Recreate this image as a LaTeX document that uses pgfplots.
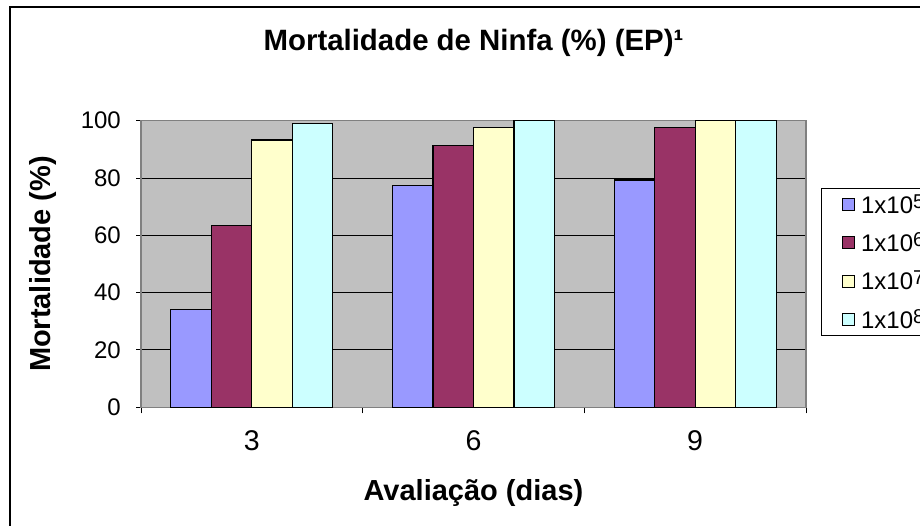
\documentclass[border=0pt]{standalone}
\usepackage{pgfplots}
\pgfplotsset{compat=1.18}
\usepackage{fontspec}
\setmainfont{Liberation Sans}
\definecolor{c1}{HTML}{9999FF}
\definecolor{c2}{HTML}{993366}
\definecolor{c3}{HTML}{FFFFCC}
\definecolor{c4}{HTML}{CCFFFF}
\definecolor{pa}{HTML}{C0C0C0}
\newcommand\sps[1]{\raisebox{5pt}{\fontsize{20}{20}\selectfont #1}}
\begin{document}
\begin{tikzpicture}
\useasboundingbox (0pt,0pt) rectangle (920pt,525pt);
\clip (0pt,0pt) rectangle (920pt,525pt);
\fill[white] (0pt,0pt) rectangle (920pt,525pt);
\draw[black, line width=2pt] (10pt,-10pt) -- (10pt,518pt) -- (940pt,518pt);
\begin{axis}[
  at={(141pt,117.7pt)}, anchor=south west,
  scale only axis, width=665pt, height=286.6pt,
  xmin=-0.5, xmax=2.5, ymin=0, ymax=100,
  ybar, bar width=0.1827,
  axis background/.style={fill=pa},
  xtick={0,1,2}, xticklabels={3,6,9},
  minor xtick={-0.5,0.5,1.5,2.5},
  ytick={0,20,40,60,80,100},
  xtick pos=bottom, ytick pos=left,
  tick align=outside,
  major tick length=5pt, minor tick length=6pt,
  x tick style={draw=none},
  minor x tick style={draw=black, line width=1pt},
  y tick style={black, line width=1pt},
  ymajorgrids, major grid style={black, line width=1pt},
  axis line style={draw=black!50, line width=1.5pt},
  /pgf/number format/assume math mode=true,
  yticklabel style={anchor=east, inner sep=0pt, xshift=-15pt, font=\fontsize{24}{28}\selectfont},
  xticklabel style={anchor=north, inner sep=0pt, yshift=-18pt, font=\fontsize{28.5}{32}\selectfont},
  title={Mortalidade de Ninfa (\%) (EP)¹},
  title style={at={(axis description cs:0.5,1.25)}, anchor=center, font=\bfseries\fontsize{29.4}{34}\selectfont},
  xlabel={Avaliação (dias)},
  xlabel style={at={(axis description cs:0.5,-0.3)}, anchor=center, font=\bfseries\fontsize{29}{34}\selectfont},
  ylabel={Mortalidade (\%)},
  ylabel style={at={(axis description cs:-0.148,0.5)}, anchor=center, rotate=0, font=\bfseries\fontsize{29}{34}\selectfont},
  legend style={at={(axis description cs:1.022,0.766)}, anchor=north west, draw=black, line width=1pt, fill=white,
    font=\fontsize{24}{27}\selectfont, row sep=14pt, inner xsep=21pt, inner ysep=4pt,
    /tikz/every odd column/.append style={column sep=4pt}},
  legend cell align=left,
  legend image code/.code={\draw[#1, line width=1pt] (0pt,-6pt) rectangle (12pt,6pt);},
]
\addplot[fill=c1, draw=black, line width=1.2pt, bar shift=-0.274] coordinates {(0,34.0) (1,77.3) (2,79.3)};
\addplot[fill=c2, draw=black, line width=1.2pt, bar shift=-0.0914] coordinates {(0,63.3) (1,91.4) (2,97.7)};
\addplot[fill=c3, draw=black, line width=1.2pt, bar shift=0.0914] coordinates {(0,93.3) (1,97.7) (2,100)};
\addplot[fill=c4, draw=black, line width=1.2pt, bar shift=0.274] coordinates {(0,99.0) (1,100) (2,100)};
\legend{1x10\sps{5},1x10\sps{6},1x10\sps{7},1x10\sps{8}}
\end{axis}
\end{tikzpicture}
\end{document}
